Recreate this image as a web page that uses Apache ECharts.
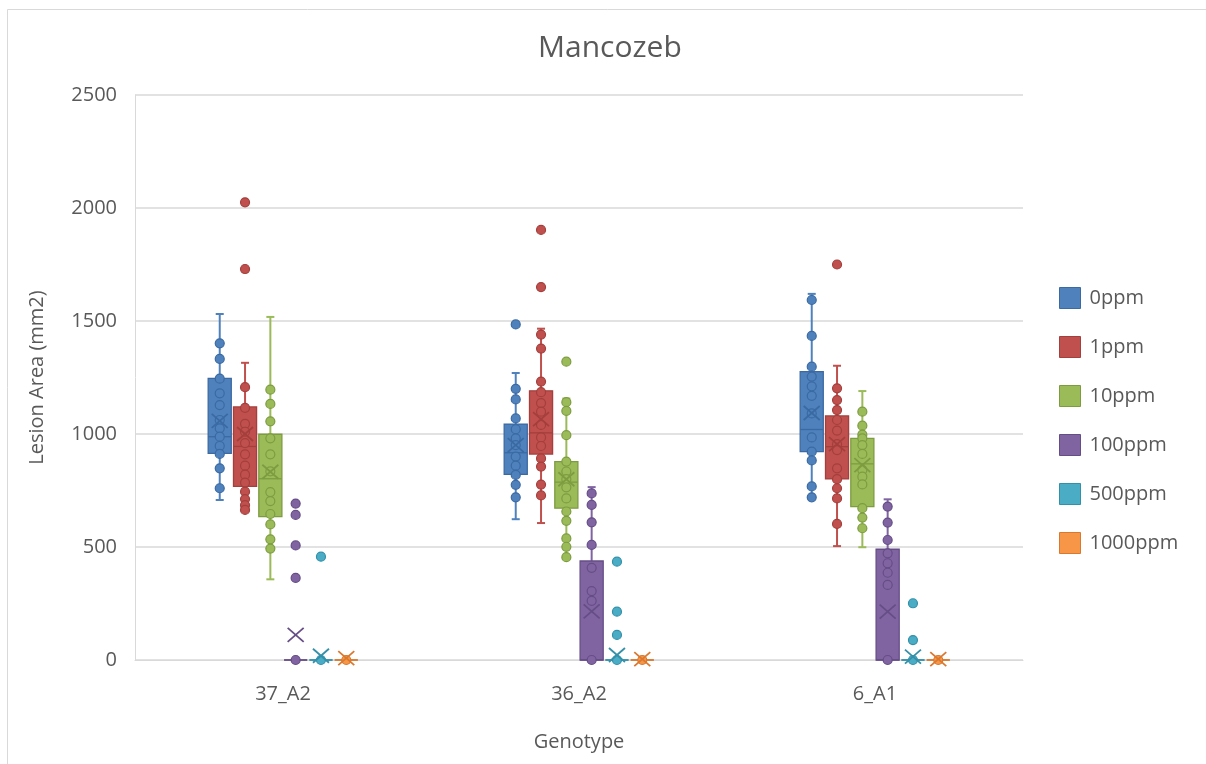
<!DOCTYPE html>
<html>
<head>
<meta charset="utf-8">
<script src="https://cdn.jsdelivr.net/npm/echarts@6/dist/echarts.min.js"></script>
<style>
  html, body { margin: 0; padding: 0; background: #ffffff; }
  #chart { width: 1206px; height: 764px; }
</style>
</head>
<body>
<div id="chart"></div>
<script>
// Categories and series names
const genotypes = ['37_A2', '36_A2', '6_A1'];
const concentrations = ['0ppm', '1ppm', '10ppm', '100ppm', '500ppm', '1000ppm'];

// Y axis ticks
const yMin = 0;
const yMax = 2500;
const yStep = 500;

// Box statistics per genotype: [whisker low, Q1, median, Q3, whisker high]
const box0ppm    = [[708, 914, 988, 1246, 1531], [623, 821, 917, 1044, 1270], [720, 922, 1020, 1276, 1620]];
const box1ppm    = [[664, 768, 945, 1120, 1315], [606, 911, 1005, 1191, 1466], [504, 801, 944, 1080, 1302]];
const box10ppm   = [[357, 634, 802, 999, 1518], [455, 672, 787, 878, 1157], [499, 679, 868, 981, 1190]];
const box100ppm  = [[0, 0, 0, 0, 0], [0, 0, 0, 438, 765], [0, 0, 0, 490, 711]];
const box500ppm  = [[0, 0, 0, 0, 0], [0, 0, 0, 0, 0], [0, 0, 0, 0, 0]];
const box1000ppm = [[0, 0, 0, 0, 0], [0, 0, 0, 0, 0], [0, 0, 0, 0, 0]];

// Mean per genotype
const mean0ppm    = [1058, 951, 1093];
const mean1ppm    = [1000, 1066, 955];
const mean10ppm   = [833, 800, 862];
const mean100ppm  = [111, 215, 214];
const mean500ppm  = [19, 22, 15];
const mean1000ppm = [8, 4, 4];

// Individual observations per genotype
const pts0ppm = [
  [1401, 1332, 1245, 1180, 1128, 1062, 1025, 988, 947, 912, 848, 760],
  [1485, 1200, 1153, 1069, 1021, 981, 951, 900, 860, 819, 775, 720],
  [1593, 1434, 1298, 1254, 1211, 1169, 1091, 985, 922, 883, 768, 720]
];
const pts1ppm = [
  [2025, 1730, 1207, 1116, 1045, 1010, 960, 910, 860, 820, 785, 745, 712, 685, 664],
  [1903, 1650, 1440, 1378, 1232, 1185, 1137, 1099, 1040, 985, 947, 892, 856, 776, 728],
  [1750, 1202, 1150, 1106, 1062, 1015, 955, 929, 848, 800, 760, 715, 602]
];
const pts10ppm = [
  [1196, 1133, 1056, 981, 910, 835, 743, 703, 646, 600, 534, 493],
  [1320, 1141, 1102, 995, 878, 834, 800, 764, 715, 657, 616, 538, 501, 455],
  [1099, 1037, 997, 981, 951, 912, 841, 811, 777, 672, 630, 583]
];
const pts100ppm = [
  [692, 642, 507, 363, 0],
  [737, 686, 609, 509, 408, 305, 262, 0],
  [679, 608, 531, 472, 428, 386, 332, 0]
];
const pts500ppm = [[457, 0], [435, 214, 111, 0], [251, 88, 0]];
const pts1000ppm = [[0], [0], [0]];

const boxes = [box0ppm, box1ppm, box10ppm, box100ppm, box500ppm, box1000ppm];
const means = [mean0ppm, mean1ppm, mean10ppm, mean100ppm, mean500ppm, mean1000ppm];
const points = [pts0ppm, pts1ppm, pts10ppm, pts100ppm, pts500ppm, pts1000ppm];

const fillColors = ['#4f81bd', '#c0504d', '#9bbb59', '#8064a2', '#4bacc6', '#f79646'];
const edgeColors = ['#3b6aa2', '#a33f3c', '#7d9c40', '#654d86', '#3390a9', '#d9782f'];

const textColor = '#595959';
const gridColor = '#d9d9d9';
const fontFamily = '"Open Sans", "Noto Sans", sans-serif';

function makeSeries(si) {
  return {
    type: 'custom',
    name: concentrations[si],
    itemStyle: { color: fillColors[si] },
    encode: { x: 0, y: [1, 2, 3, 4, 5, 6] },
    data: genotypes.map((g, gi) => [gi].concat(boxes[si][gi], [means[si][gi]])),
    renderItem: function (params, api) {
      const gi = api.value(0);
      const band = api.size([1, 0])[0];
      const step = band * 0.0855;
      const bw = band * 0.078;
      const cx = api.coord([gi, 0])[0] + (si - 2.5) * step;
      const y = v => api.coord([gi, v])[1];
      const lo = api.value(1), q1 = api.value(2), med = api.value(3),
            q3 = api.value(4), hi = api.value(5), mean = api.value(6);
      const fill = fillColors[si], edge = edgeColors[si];
      const cap = 4;
      const children = [];
      const wStyle = { stroke: fill, lineWidth: 2 };
      // whiskers and caps
      children.push({ type: 'line', shape: { x1: cx, y1: y(lo), x2: cx, y2: y(q1) }, style: wStyle });
      children.push({ type: 'line', shape: { x1: cx, y1: y(q3), x2: cx, y2: y(hi) }, style: wStyle });
      children.push({ type: 'line', shape: { x1: cx - cap, y1: y(lo), x2: cx + cap, y2: y(lo) }, style: wStyle });
      children.push({ type: 'line', shape: { x1: cx - cap, y1: y(hi), x2: cx + cap, y2: y(hi) }, style: wStyle });
      // box
      children.push({
        type: 'rect',
        shape: { x: cx - bw / 2, y: y(q3), width: bw, height: y(q1) - y(q3) },
        style: { fill: fill, stroke: edge, lineWidth: 1.3 }
      });
      // median
      children.push({
        type: 'line',
        shape: { x1: cx - bw / 2, y1: y(med), x2: cx + bw / 2, y2: y(med) },
        style: { stroke: edge, lineWidth: 1.3 }
      });
      // observations
      points[si][gi].forEach(v => {
        children.push({
          type: 'circle',
          shape: { cx: cx, cy: y(v), r: 4.5 },
          style: { fill: fill, stroke: edge, lineWidth: 1.2 }
        });
      });
      // mean marker
      const my = y(mean), mx = 8, myh = 7;
      const xStyle = { stroke: edge, lineWidth: 1.8 };
      children.push({ type: 'line', shape: { x1: cx - mx, y1: my - myh, x2: cx + mx, y2: my + myh }, style: xStyle });
      children.push({ type: 'line', shape: { x1: cx - mx, y1: my + myh, x2: cx + mx, y2: my - myh }, style: xStyle });
      return { type: 'group', children: children };
    }
  };
}

const chart = echarts.init(document.getElementById('chart'));
chart.setOption({
  backgroundColor: '#ffffff',
  animation: false,
  textStyle: { fontFamily: fontFamily },
  title: {
    text: 'Mancozeb',
    left: 533,
    top: 28,
    textStyle: { fontSize: 30, fontWeight: 'normal', color: textColor, fontFamily: fontFamily }
  },
  graphic: [{
    type: 'rect',
    silent: true,
    shape: { x: 7.5, y: 9.5, width: 1220, height: 780 },
    style: { fill: 'none', stroke: gridColor, lineWidth: 1 }
  }],
  legend: {
    orient: 'vertical',
    left: 1054,
    top: 282,
    itemWidth: 21,
    itemHeight: 21,
    itemGap: 27,
    icon: 'rect',
    textStyle: { fontSize: 20, color: textColor, fontFamily: fontFamily, padding: [0, 0, 0, 4] },
    data: concentrations.map((n, i) => ({
      name: n,
      itemStyle: { color: fillColors[i], borderColor: edgeColors[i], borderWidth: 1 }
    }))
  },
  grid: { left: 135, right: 183, top: 95, bottom: 104, containLabel: false },
  xAxis: {
    type: 'category',
    data: genotypes,
    name: 'Genotype',
    nameLocation: 'middle',
    nameGap: 72,
    nameTextStyle: { fontSize: 20, color: textColor, fontFamily: fontFamily },
    axisLine: { show: true, lineStyle: { color: gridColor, width: 1 } },
    axisTick: { show: false },
    axisLabel: { fontSize: 20, color: textColor, margin: 24, fontFamily: fontFamily },
    splitLine: { show: false }
  },
  yAxis: {
    type: 'value',
    min: yMin,
    max: yMax,
    interval: yStep,
    name: 'Lesion Area (mm2)',
    nameLocation: 'middle',
    nameGap: 88,
    nameRotate: 90,
    nameTextStyle: { fontSize: 20, color: textColor, fontFamily: fontFamily },
    axisLine: { show: true, lineStyle: { color: gridColor, width: 1 } },
    axisTick: { show: false },
    axisLabel: { fontSize: 20, color: textColor, margin: 18, fontFamily: fontFamily, formatter: v => String(v) },
    splitLine: { show: true, lineStyle: { color: gridColor, width: 1.5 } }
  },
  series: concentrations.map((c, i) => makeSeries(i))
});
</script>
</body>
</html>
